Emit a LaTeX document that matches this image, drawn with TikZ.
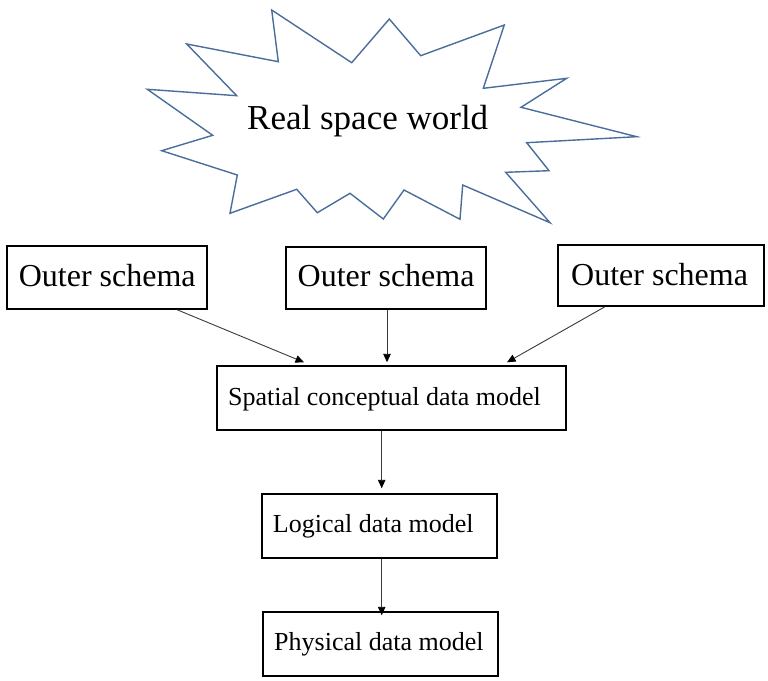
\documentclass[tikz,border=0pt]{standalone}
\usepackage{fontspec}
\setmainfont{Liberation Serif}
\usetikzlibrary{arrows.meta}
\definecolor{burst}{HTML}{4A6D9C}
\definecolor{arrgray}{HTML}{3A3A3A}
\begin{document}
\begin{tikzpicture}[x=1pt,y=-1pt,
  box/.style={draw=black,line width=1.4pt,rectangle,inner sep=0pt,fill=white},
  lbl/.style={anchor=base west,inner sep=0pt},
  arr/.style={draw=arrgray,line width=0.9pt,-{Triangle[length=8.5pt,width=7.5pt,color=black]}}]
\useasboundingbox (0,0) rectangle (768,680);
% starburst
\draw[burst,line width=1.4pt,line join=miter]
 (271.7,10) -- (351.7,62.7) -- (389.3,19) -- (420.7,55.7) -- (504.3,25)
 -- (483.3,88.3) -- (566.7,78.3) -- (521,107.3) -- (636.7,136.7)
 -- (526.7,142.7) -- (549,170.7) -- (505.7,172.3) -- (550,222.7)
 -- (462.7,185) -- (460,219.3) -- (404,190) -- (383.3,219) -- (350,193.3)
 -- (317.3,212.7) -- (296.7,189.3) -- (230,213.3) -- (237.3,175)
 -- (161.7,150.7) -- (212.7,135.3) -- (147.3,89.3) -- (236.7,95.7)
 -- (186.7,44) -- (278.3,61.7) -- cycle;
\node[lbl,font=\fontsize{35}{40}\selectfont] (rsw) at (247,129.3) {Real space world};
% boxes
\node[box,minimum width=200pt,minimum height=63pt] (b1) at (107,277.5) {};
\node[box,minimum width=200pt,minimum height=62pt] (b2) at (386,278) {};
\node[box,minimum width=206pt,minimum height=61pt] (b3) at (661,275.5) {};
\node[box,minimum width=349pt,minimum height=64pt] (sp) at (391.5,398) {};
\node[box,minimum width=235pt,minimum height=64pt] (lg) at (379.5,526) {};
\node[box,minimum width=235pt,minimum height=64pt] (ph) at (380.5,644) {};
% labels
\node[lbl,font=\fontsize{32}{36}\selectfont] (t1) at (18.6,286) {Outer schema};
\node[lbl,font=\fontsize{32}{36}\selectfont] (t2) at (297.5,286) {Outer schema};
\node[lbl,font=\fontsize{32}{36}\selectfont] (t3) at (571,285) {Outer schema};
\node[lbl,font=\fontsize{26}{30}\selectfont] (tsp) at (228,405) {Spatial conceptual data model};
\node[lbl,font=\fontsize{26}{30}\selectfont] (tlg) at (272.7,532.7) {Logical data model};
\node[lbl,font=\fontsize{26}{30}\selectfont] (tph) at (274,650) {Physical data model};
% arrows
\draw[arr] ([xshift=70pt]b1.south) -- ([xshift=-87.5pt,yshift=3pt]sp.north);
\draw[arr] ([xshift=1pt]b2.south) -- ([xshift=-4.5pt,yshift=3pt]sp.north);
\draw[arr] ([xshift=-56pt]b3.south) -- ([xshift=115.5pt,yshift=3pt]sp.north);
\draw[arr] ([xshift=-9.8pt]sp.south) -- ([xshift=2.2pt,yshift=5pt]lg.north);
\draw[arr] ([xshift=2.2pt]lg.south) -- ([xshift=1.2pt,yshift=-4pt]ph.north);
\end{tikzpicture}
\end{document}
